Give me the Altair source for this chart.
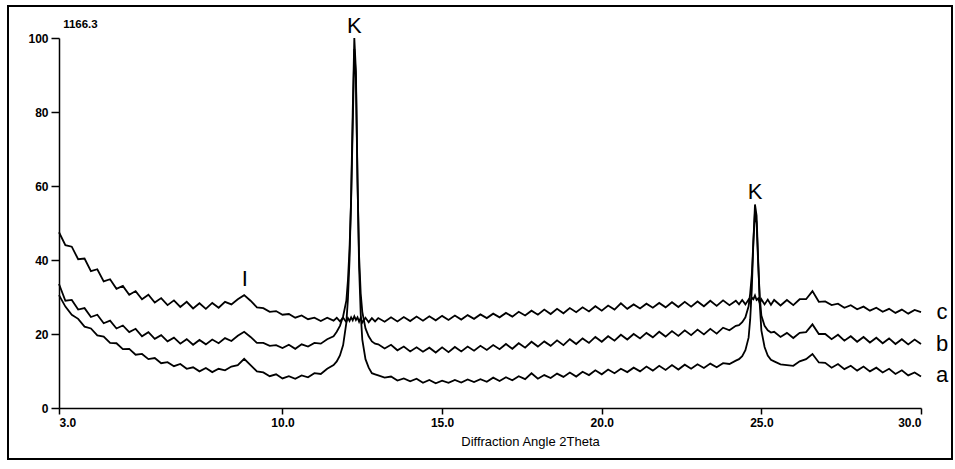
import altair as alt
import pandas as pd

# 2-theta sampling positions
two_theta = [
    3.0, 3.2, 3.4, 3.6, 3.8, 4.0, 4.2, 4.4, 4.6, 4.8, 5.0, 5.2, 5.4, 5.6, 5.8, 6.0, 6.2, 6.4, 6.6, 6.8,
    7.0, 7.2, 7.4, 7.6, 7.8, 8.0, 8.2, 8.4, 8.6, 8.8, 9.0, 9.2, 9.4, 9.6, 9.8, 10.0, 10.2, 10.4, 10.6, 10.8,
    11.0, 11.2, 11.4, 11.6,
    11.7, 11.8, 11.9, 12.0, 12.05, 12.1, 12.15, 12.2, 12.25, 12.3, 12.35, 12.4, 12.45, 12.5, 12.6, 12.7, 12.8, 12.9,
    13.0, 13.2, 13.4, 13.6, 13.8, 14.0, 14.2, 14.4, 14.6, 14.8, 15.0, 15.2, 15.4, 15.6, 15.8, 16.0, 16.2, 16.4, 16.6, 16.8,
    17.0, 17.2, 17.4, 17.6, 17.8, 18.0, 18.2, 18.4, 18.6, 18.8, 19.0, 19.2, 19.4, 19.6, 19.8, 20.0, 20.2, 20.4, 20.6, 20.8,
    21.0, 21.2, 21.4, 21.6, 21.8, 22.0, 22.2, 22.4, 22.6, 22.8, 23.0, 23.2, 23.4, 23.6, 23.8, 24.0, 24.2,
    24.3, 24.4, 24.5, 24.6, 24.65, 24.7, 24.75, 24.8, 24.85, 24.9, 24.95, 25.0, 25.1, 25.2, 25.3,
    25.4, 25.6, 25.8, 26.0, 26.2, 26.4, 26.6, 26.8, 27.0, 27.2, 27.4, 27.6, 27.8, 28.0, 28.2, 28.4, 28.6, 28.8,
    29.0, 29.2, 29.4, 29.6, 29.8, 30.0,
]

series_a = [
    30.5, 27.4, 25.2, 24.1, 22.0, 21.5, 19.6, 19.3, 17.6, 17.5, 15.9, 16.0, 14.4, 14.6, 13.2, 13.5, 12.1, 12.4, 11.3, 11.9,
    10.6, 11.0, 9.9, 10.8, 9.7, 10.6, 10.2, 11.2, 11.6, 13.3, 11.6, 9.9, 9.6, 8.6, 9.1, 8.0, 8.6, 7.9, 8.8, 8.3,
    9.4, 9.2, 10.6, 11.6,
    12.6, 14.2, 17.0, 23.0, 29.5, 40.0, 57.0, 80.0, 100.0, 91.0, 62.0, 38.0, 25.5, 18.5, 13.2, 10.9, 9.4, 9.1,
    8.8, 8.2, 8.5, 7.4, 8.0, 7.2, 7.9, 6.8, 7.6, 6.7, 7.4, 6.8, 7.6, 6.9, 7.7, 7.0, 7.8, 7.1, 8.2, 7.3,
    8.3, 7.5, 8.6, 7.8, 9.4, 7.9, 8.9, 8.1, 9.3, 8.4, 9.6, 8.5, 9.8, 8.9, 10.2, 9.1, 10.4, 9.4, 10.6, 9.7,
    10.9, 9.9, 11.2, 10.1, 11.4, 10.3, 11.6, 10.4, 11.7, 10.6, 11.8, 10.8, 12.0, 11.0, 12.1, 11.9, 12.8,
    13.2, 14.0, 15.6, 19.0, 24.0, 32.0, 45.0, 55.0, 52.0, 40.0, 28.0, 21.0, 16.5, 14.2, 13.0,
    12.6, 11.8, 11.6, 11.4, 12.6, 13.2, 14.6, 12.3, 12.2, 10.9, 11.9, 10.5, 11.4, 10.1, 11.2, 9.9, 10.9, 9.6,
    10.6, 9.2, 10.2, 8.8, 9.6, 8.5,
]

series_b = [
    33.5, 29.0, 29.2, 26.6, 27.0, 24.6, 25.2, 22.9, 23.6, 21.5, 22.3, 20.5, 21.4, 19.4, 20.5, 18.7, 19.7, 18.0, 19.0, 17.4,
    18.6, 17.1, 18.4, 17.2, 18.5, 17.5, 18.9, 18.1, 19.5, 20.6, 19.2, 17.6, 17.6, 16.8, 17.0, 16.2, 17.1, 16.0, 17.2, 16.6,
    17.6, 17.4, 18.6, 19.4,
    20.6, 22.2, 24.8, 29.0, 34.5, 43.0, 56.0, 76.0, 97.0, 89.0, 61.0, 41.0, 31.0, 26.0, 21.5, 19.4, 18.0, 17.4,
    17.2, 16.1, 17.1, 15.6, 16.6, 15.3, 16.4, 15.2, 16.3, 15.0, 16.4, 15.1, 16.5, 15.3, 16.6, 15.5, 16.8, 15.7, 17.0, 15.9,
    17.3, 16.0, 17.5, 16.3, 17.9, 16.6, 18.0, 16.8, 18.3, 17.0, 18.6, 17.3, 18.8, 17.6, 19.2, 17.9, 19.4, 18.2, 19.8, 18.5,
    20.0, 18.8, 20.3, 19.1, 20.6, 19.3, 20.8, 19.5, 21.0, 19.7, 21.2, 19.9, 21.4, 20.1, 21.7, 21.0, 22.2,
    22.4, 23.2, 24.5, 27.5, 31.0, 36.0, 45.0, 53.0, 50.0, 39.0, 30.0, 25.0, 22.2, 21.0, 20.4,
    20.6, 19.2, 20.3, 18.9, 20.3, 20.5, 22.6, 20.0, 20.0, 18.6, 19.8, 18.2, 19.4, 17.9, 19.2, 17.7, 19.0, 17.5,
    18.8, 17.3, 18.6, 17.2, 18.5, 17.3,
]

series_c = [
    47.5, 44.0, 43.6, 40.2, 40.4, 37.0, 37.5, 34.2, 34.8, 32.2, 33.0, 30.6, 31.6, 29.4, 30.6, 28.5, 29.7, 27.8, 29.1, 27.3,
    28.7, 26.9, 28.3, 26.8, 28.4, 27.1, 28.7, 28.0, 29.4, 30.5, 29.0, 27.2, 27.0, 26.0, 26.2, 25.2, 25.4, 24.4, 25.0, 24.0,
    24.4, 23.5, 24.4, 23.6,
    24.4, 23.4, 24.4, 23.2, 24.3, 23.5, 24.5, 23.7, 24.8, 23.8, 24.5, 23.3, 24.4, 23.1, 24.4, 23.2, 24.3, 23.4,
    24.3, 23.3, 24.5, 23.4, 24.6, 23.5, 24.7, 23.6, 24.8, 23.7, 24.9, 23.8, 25.0, 23.9, 25.1, 24.1, 25.3, 24.3, 25.5, 24.5,
    25.7, 24.7, 26.0, 25.0, 26.3, 25.2, 26.6, 25.4, 26.8, 25.6, 27.0, 25.9, 27.2, 26.1, 27.5, 26.3, 27.7, 26.6, 28.3, 26.8,
    28.0, 26.9, 28.2, 27.1, 28.4, 27.2, 28.6, 27.3, 28.7, 27.4, 28.8, 27.5, 29.0, 27.6, 29.1, 27.8, 29.0,
    28.0, 29.2, 28.0, 29.3, 28.4, 29.8, 29.4, 30.4, 29.2, 29.6, 28.3, 29.4, 28.0, 29.3, 27.9,
    29.2, 27.7, 29.2, 27.8, 29.4, 29.4, 31.6, 28.7, 28.8, 27.8, 28.2, 27.1, 27.8, 26.7, 27.4, 26.3, 27.1, 26.0,
    26.8, 25.7, 26.6, 25.5, 26.5, 25.9,
]

# annotations: text, 2theta, intensity
ann_text = ["K", "K", "I", "c", "b", "a"]
ann_x = [12.25, 24.8, 8.82, 30.66, 30.66, 30.66]
ann_y = [103.2, 58.4, 35.0, 26.0, 17.3, 8.9]

rows = []
for name, vals in (("a", series_a), ("b", series_b), ("c", series_c)):
    for t, v in zip(two_theta, vals):
        rows.append({"theta": t, "intensity": v, "series": name})
df = pd.DataFrame(rows)
ann = pd.DataFrame({"text": ann_text, "x": ann_x, "y": ann_y})

FONT = "Liberation Sans"
xscale = alt.Scale(domain=[3, 30], nice=False, zero=False)
yscale = alt.Scale(domain=[0, 100], nice=False)

lines = alt.Chart(df).mark_line(color="black", strokeWidth=1.8).encode(
    x=alt.X("theta:Q", scale=xscale,
            axis=alt.Axis(values=[3, 10, 15, 20, 25, 30], format=".1f", title="Diffraction Angle 2Theta",
                          tickSize=6, labelPadding=3, grid=False, titleX=471, titleY=27,
                          titleFontWeight="normal", titleFontSize=13, titleFont=FONT,
                          labelFont=FONT, labelFontSize=12, labelFontWeight="bold")),
    y=alt.Y("intensity:Q", scale=yscale,
            axis=alt.Axis(values=[0, 20, 40, 60, 80, 100], title=None, tickSize=8, labelPadding=3,
                          grid=False, labelFont=FONT, labelFontSize=12, labelFontWeight="bold")),
    detail="series:N",
)

labels = alt.Chart(ann).mark_text(font=FONT, fontSize=22, color="black", baseline="middle").encode(
    x=alt.X("x:Q", scale=xscale), y=alt.Y("y:Q", scale=yscale), text="text:N"
)

top_label = alt.Chart(pd.DataFrame({"t": ["1166.3"], "x": [3.13], "y": [103.5]})).mark_text(
    font=FONT, fontSize=11.5, fontWeight="bold", align="left", baseline="middle", color="black"
).encode(x=alt.X("x:Q", scale=xscale), y=alt.Y("y:Q", scale=yscale), text="t:N")

frame = alt.Chart(pd.DataFrame({"k": [0]})).mark_rect(filled=False, stroke="black", strokeWidth=2).encode(
    x=alt.value(-51), x2=alt.value(893), y=alt.value(-32), y2=alt.value(421)
)

chart = alt.layer(frame, lines, labels, top_label).properties(
    width=862, height=370,
    autosize=alt.AutoSizeParams(type="none"),
    padding={"left": 59, "top": 38, "right": 34, "bottom": 61},
).configure_view(stroke=None).configure_axis(
    domainColor="black", tickColor="black", domainWidth=1.5, tickWidth=1.5, labelColor="black", titleColor="black"
)

chart.save("out.html", embed_options={"renderer": "svg", "actions": False})
